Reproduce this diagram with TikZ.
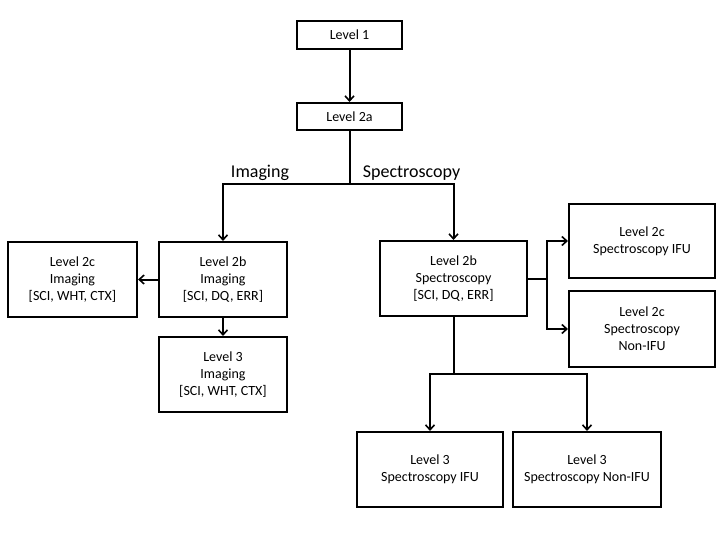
\documentclass[tikz,border=0pt]{standalone}
\usepackage{fontspec}
\setmainfont{Carlito}
\usetikzlibrary{arrows.meta}
\begin{document}
\begin{tikzpicture}[x=1pt,y=-1pt,
  box/.style={draw=black, line width=2pt, rectangle, align=center, inner sep=0pt,
    font=\fontsize{14}{17}\selectfont},
  conn/.style={line width=2pt},
  arr/.style={line width=2pt, -{Straight Barb[length=5pt,width=9pt,line width=1.6pt]}},
  lbl/.style={font=\fontsize{18}{21}\selectfont, anchor=base, inner sep=0pt}]
\useasboundingbox[fill=white] (0,0) rectangle (720,540);

\node[box, minimum width=105pt, minimum height=28pt] (l1) at (349.5,35) {Level 1};
\node[box, minimum width=105pt, minimum height=27pt] (l2a) at (349.5,116.5) {Level 2a};
\node[box, minimum width=129pt, minimum height=75pt] (l2ci) at (72.5,279.5) {Level 2c\\Imaging\\{[SCI, WHT, CTX]}};
\node[box, minimum width=128pt, minimum height=75pt] (l2bi) at (223,279.5) {Level 2b\\Imaging\\{[SCI, DQ, ERR]}};
\node[box, minimum width=128pt, minimum height=75pt] (l3i) at (223,374.5) {Level 3\\Imaging\\{[SCI, WHT, CTX]}};
\node[box, minimum width=147pt, minimum height=75pt] (l2bs) at (453.5,278.5) {Level 2b\\Spectroscopy\\{[SCI, DQ, ERR]}};
\node[box, minimum width=146pt, minimum height=74pt] (l2cifu) at (642,241) {Level 2c\\Spectroscopy IFU};
\node[box, minimum width=146pt, minimum height=76pt] (l2cnon) at (642,329) {Level 2c\\Spectroscopy\\Non-IFU};
\node[box, minimum width=146pt, minimum height=75pt] (l3sifu) at (430,469.5) {Level 3\\Spectroscopy IFU};
\node[box, minimum width=148pt, minimum height=75pt] (l3snon) at (587,469.5) {Level 3\\Spectroscopy Non-IFU};

\node[lbl] (limg) at (260,178) {Imaging};
\node[lbl] (lspec) at (411.5,178) {Spectroscopy};

\coordinate (j1) at (349.5,184);
\coordinate (j2) at (547,278.5);
\coordinate (j3) at (453.5,374);

\draw[arr] (l1) -- (l2a);
\draw[conn] (l2a.south) -- (j1);
\draw[arr] (j1) -| (l2bi.north);
\draw[arr] (j1) -| (l2bs.north);
\draw[arr] (l2bi.west) -- (l2ci.east);
\draw[arr] (l2bi.south) -- (l3i.north);
\draw[conn] (l2bs.east) -- (j2);
\draw[arr] (j2) |- (l2cifu.west);
\draw[arr] (j2) |- (l2cnon.west);
\draw[conn] (l2bs.south) -- (j3);
\draw[arr] (j3) -| (l3sifu.north);
\draw[arr] (j3) -| (l3snon.north);
\end{tikzpicture}
\end{document}
